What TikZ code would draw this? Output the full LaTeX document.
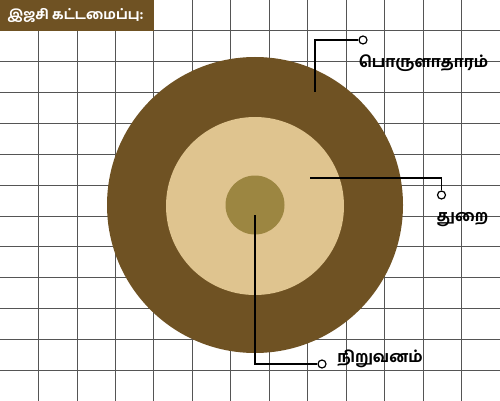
\documentclass[tikz,border=0pt]{standalone}
\usepackage{fontspec}
\newfontfamily\tamilfont[Script=Tamil,BoldFont={Hind Madurai Bold}]{Hind Madurai}
\definecolor{ringbrown}{HTML}{6F5223}
\definecolor{ringsand}{HTML}{DFC48F}
\definecolor{ringolive}{HTML}{9C8641}
\definecolor{gridgray}{HTML}{555555}
\begin{document}
\begin{tikzpicture}[x=1pt,y=-1pt,
		disc/.style={circle,draw=none,inner sep=0pt},
		dot/.style={circle,draw=black,fill=white,line width=1.2pt,inner sep=0pt,minimum size=8pt},
		leader/.style={draw=black,line width=1.5pt},
		tag/.style={font=\tamilfont\bfseries\fontsize{15.5}{17}\selectfont,inner sep=0pt}]
		\fill[white] (0,0) rectangle (500,401);
		\useasboundingbox (0,0) rectangle (500,401);
		% grid
		\foreach \i in {1,...,12}
			\draw[gridgray,line width=0.8pt] (\i*38.46,0) -- (\i*38.46,401);
		\foreach \j in {1,...,12}
			\draw[gridgray,line width=0.8pt] (0,\j*30.846) -- (500,\j*30.846);
		% title
		\fill[ringbrown] (0,0) rectangle (153.8,30.846);
		\node[font=\tamilfont\bfseries\fontsize{13.6}{15}\selectfont,text=white,inner sep=0pt] (title) at (75.5,15.5) {இஜசி கட்டமைப்பு:};
		% rings
		\node[disc,fill=ringbrown,minimum size=296pt] (economy) at (255,205) {};
		\node[disc,fill=ringsand,minimum size=178pt] (sector) at (255,206) {};
		\node[disc,fill=ringolive,minimum size=59pt] (firm) at (255,205) {};
		% leaders
		\coordinate (economy start) at (315,92);
		\coordinate (sector start) at (310,178);
		\coordinate (firm start) at (255,215);
		\node[dot] (economy dot) at (363,40) {};
		\node[dot] (sector dot) at (441.5,195) {};
		\node[dot] (firm dot) at (322,364) {};
		\draw[leader] (economy start) |- (economy dot);
		\draw[leader] (sector start) -| (sector dot);
		\draw[leader] (firm start) |- (firm dot);
		% labels
		\node[tag] (economy label) at (423.5,63) {பொருளாதாரம்};
		\node[tag] (sector label) at (462.5,220) {துறை};
		\node[tag] (firm label) at (380,359) {நிறுவனம்};
	\end{tikzpicture}
\end{document}
